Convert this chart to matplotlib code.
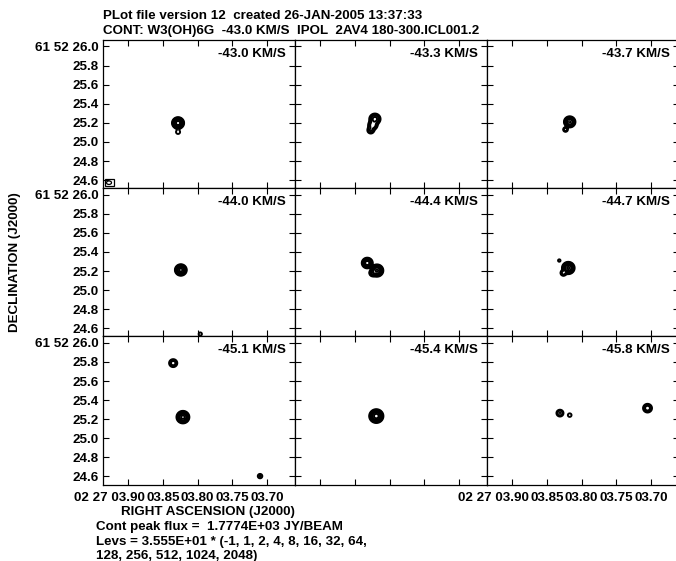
import numpy as np
import matplotlib
matplotlib.use("Agg")
import matplotlib.pyplot as plt
from matplotlib.patches import Rectangle, Ellipse
import matplotlib.transforms as mtransforms

# ---------------- data ----------------
velocities = ["-43.0", "-43.3", "-43.7", "-44.0", "-44.4", "-44.7", "-45.1", "-45.4", "-45.8"]
base_level = 35.55
level_factors = [-1, 1, 2, 4, 8, 16, 32, 64, 128, 256, 512, 1024, 2048]

ra_ticks = [3.90, 3.85, 3.80, 3.75, 3.70]
ra_ticklabels = ["02 27 03.90", "03.85", "03.80", "03.75", "03.70"]
dec_ticks = [24.6, 24.8, 25.0, 25.2, 25.4, 25.6, 25.8, 26.0]
dec_ticklabels = ["24.6", "24.8", "25.0", "25.2", "25.4", "25.6", "25.8", "61 52 26.0"]

# maser spot components (Gaussian models) per panel
comp_panel = [0, 0,
              1, 1, 1,
              2, 2,
              3, 3,
              4, 4, 4,
              5, 5, 5,
              6, 6, 6,
              7,
              8, 8, 8]
comp_ra = [3.828, 3.828,
           3.821, 3.824, 3.827,
           3.817, 3.823,
           3.824, 3.796,
           3.832, 3.818, 3.824,
           3.819, 3.826, 3.832,
           3.835, 3.821, 3.710,
           3.819,
           3.831, 3.817, 3.705]
comp_dec = [25.198, 25.104,
            25.240, 25.175, 25.122,
            25.210, 25.130,
            25.211, 24.540,
            25.284, 25.205, 25.180,
            25.232, 25.180, 25.310,
            25.788, 25.222, 24.604,
            25.233,
            25.264, 25.243, 25.316]
comp_peak = [1777, 60,
             400, 250, 150,
             1200, 150,
             1500, 60,
             900, 1300, 400,
             1300, 250, 50,
             250, 1500, 80,
             1700,
             150, 60, 250]
comp_sig = [0.022, 0.020,
            0.026, 0.024, 0.020,
            0.022, 0.014,
            0.022, 0.016,
            0.022, 0.024, 0.016,
            0.024, 0.015, 0.015,
            0.021, 0.024, 0.018,
            0.026,
            0.021, 0.018, 0.023]

# --------------- layout ---------------
W, H = 676, 561
fig = plt.figure(figsize=(W / 100, H / 100), dpi=100)
FONT = "Liberation Sans"
plt.rcParams["font.family"] = [FONT, "DejaVu Sans"]
plt.rcParams["font.weight"] = "bold"
FS = 9.6

col_left = [103, 295, 487]
row_top = [40, 188.2, 336.4]
pw, ph = 192, 148.2
xlim = (3.936, 3.6597)
ylim = (24.515, 26.068)
cosd = 15 * np.cos(np.deg2rad(61.87))

gx = np.linspace(xlim[1], xlim[0], 700)
gy = np.linspace(ylim[0] - 0.02, ylim[1], 600)
GX, GY = np.meshgrid(gx, gy)
levels = [base_level * f for f in level_factors]

renderer = fig.canvas.get_renderer()
axes = []
for i in range(9):
    r, c = divmod(i, 3)
    ax = fig.add_axes([col_left[c] / W, 1 - (row_top[r] + ph) / H, pw / W, ph / H])
    axes.append(ax)
    Z = np.zeros_like(GX)
    for p, ra, de, pk, sg in zip(comp_panel, comp_ra, comp_dec, comp_peak, comp_sig):
        if p != i:
            continue
        dx = (GX - ra) * cosd
        dy = GY - de
        Z += pk * np.exp(-0.5 * (dx ** 2 + dy ** 2) / sg ** 2)
    ax.contour(GX, GY, Z, levels=levels, colors="k", linewidths=1.4)
    ax.set_xlim(*xlim)
    ax.set_ylim(*ylim)
    ax.set_xticks(ra_ticks)
    ax.set_yticks(dec_ticks)
    ax.tick_params(direction="in", top=True, right=True, length=4.5, width=0.8,
                   labelsize=FS, pad=3)
    for s in ax.spines.values():
        s.set_linewidth(0.9)
    ax.set_xticklabels([])
    if c == 0:
        ax.set_yticklabels(dec_ticklabels, fontweight="bold")
    else:
        ax.set_yticklabels([])
    ax.text(1 - 9 / pw, 1 - 14 / ph, velocities[i] + " KM/S", transform=ax.transAxes,
            ha="right", va="center", fontsize=FS, fontweight="bold")
    if r == 2 and c in (0, 2):
        trans = mtransforms.blended_transform_factory(ax.transData, ax.transAxes)
        for k, (tv, tl) in enumerate(zip(ra_ticks, ra_ticklabels)):
            if k == 0:
                tmp = ax.text(0, 0, "03.90", fontsize=FS, fontweight="bold")
                wpx = tmp.get_window_extent(renderer).width
                tmp.remove()
                off = mtransforms.ScaledTranslation(wpx / 2 / 100, -7 / 100, fig.dpi_scale_trans)
                ax.text(tv, 0, tl, transform=trans + off, ha="right", va="top",
                        fontsize=FS, fontweight="bold")
            else:
                off = mtransforms.ScaledTranslation(0, -7 / 100, fig.dpi_scale_trans)
                ax.text(tv, 0, tl, transform=trans + off, ha="center", va="top",
                        fontsize=FS, fontweight="bold")

# beam box in first panel
ax0 = axes[0]
ax0.add_patch(Rectangle((1.5 / pw, 2 / ph), 9 / pw, 7 / ph, transform=ax0.transAxes,
                        fill=False, lw=0.9, ec="k"))
ax0.add_patch(Ellipse((6 / pw, 5.5 / ph), 5 / pw, 3.5 / ph, transform=ax0.transAxes,
                      fill=False, lw=0.9, ec="k"))

# texts
fig.text(103 / W, 1 - 19 / H, "PLot file version 12  created 26-JAN-2005 13:37:33",
         fontsize=FS, fontweight="bold", va="baseline")
fig.text(103 / W, 1 - 34 / H, "CONT: W3(OH)6G  -43.0 KM/S  IPOL  2AV4 180-300.ICL001.2",
         fontsize=FS, fontweight="bold", va="baseline")
fig.text(15 / W, 1 - 262 / H, "DECLINATION (J2000)", rotation=90, ha="center", va="center",
         fontsize=FS, fontweight="bold")
fig.text(121 / W, 1 - 515 / H, "RIGHT ASCENSION (J2000)", fontsize=FS, fontweight="bold",
         va="baseline")
fig.text(96 / W, 1 - 530 / H, "Cont peak flux =  1.7774E+03 JY/BEAM", fontsize=FS,
         fontweight="bold", va="baseline")
fig.text(96 / W, 1 - 545 / H, "Levs = 3.555E+01 * (-1, 1, 2, 4, 8, 16, 32, 64,", fontsize=FS,
         fontweight="bold", va="baseline")
fig.text(96 / W, 1 - 559 / H, "128, 256, 512, 1024, 2048)", fontsize=FS, fontweight="bold",
         va="baseline")

fig.savefig("out.png", dpi=100)
